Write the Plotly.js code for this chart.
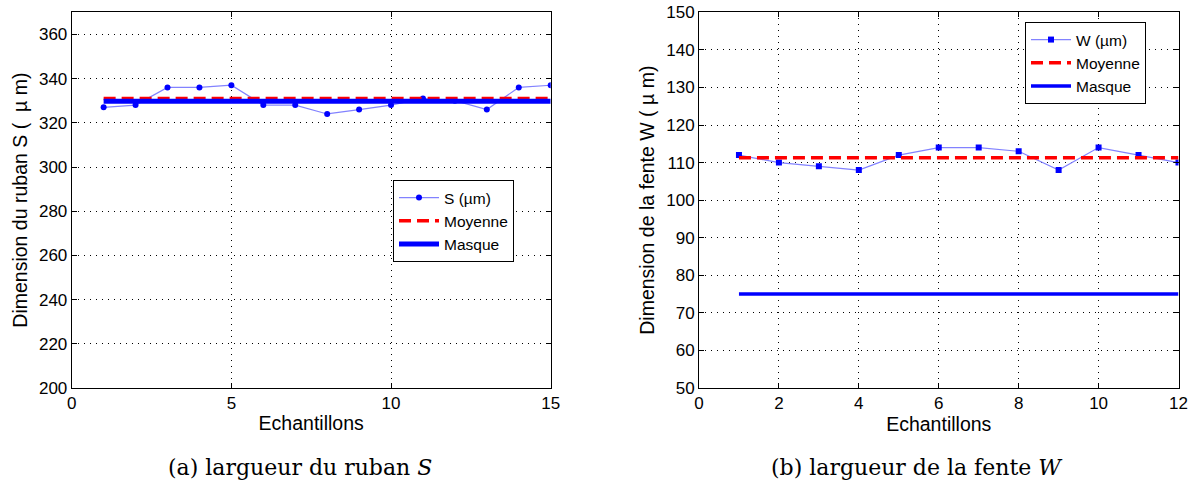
<!DOCTYPE html>
<html>
<head>
<meta charset="utf-8">
<script src="https://cdn.plot.ly/plotly-3.0.1.min.js"></script>
<style>html,body{margin:0;padding:0;background:#fff;}#chart{width:1196px;height:491px;}</style>
</head>
<body>
<div id="chart"></div>
<script>
// ---- Data ----
const samplesS = [1,2,3,4,5,6,7,8,9,10,11,12,13,14,15];
const valuesS  = [327,328,336,336,337,328,328,324,326,328,331,330,326,336,337];
const moyenneS = 331;
const masqueS  = 329.8;

const samplesW = [1,2,3,4,5,6,7,8,9,10,11,12];
const valuesW  = [112,110,109,108,112,114,114,113,108,114,112,110];
const moyenneW = 111.3;
const masqueW  = 75;

const ticksYS = [200,220,240,260,280,300,320,340,360];
const ticksYW = [50,60,70,80,90,100,110,120,130,140,150];
const ticksXS = [0,5,10,15];
const ticksXW = [0,2,4,6,8,10,12];

const nameS = 'S (µm)';
const nameW = 'W (µm)';
const nameMoy = 'Moyenne';
const nameMas = 'Masque';

const firstLast = arr => [arr[0], arr[arr.length-1]];

const FONT = 'Liberation Sans, Arial, sans-serif';
const lineBlue = 'rgb(130,130,255)';

const traces = [
  {x: samplesS, y: valuesS, name: nameS, type: 'scatter', mode: 'lines+markers',
   line: {color: lineBlue, width: 1.2}, marker: {color: '#0000ff', size: 6, symbol: 'circle'},
   xaxis: 'x', yaxis: 'y', legend: 'legend'},
  {x: firstLast(samplesS), y: [moyenneS, moyenneS], name: nameMoy, type: 'scatter', mode: 'lines',
   line: {color: '#ff0000', width: 3.5, dash: '12px,6px'}, xaxis: 'x', yaxis: 'y', legend: 'legend'},
  {x: firstLast(samplesS), y: [masqueS, masqueS], name: nameMas, type: 'scatter', mode: 'lines',
   line: {color: '#0000ff', width: 5}, xaxis: 'x', yaxis: 'y', legend: 'legend'},

  {x: samplesW, y: valuesW, name: nameW, type: 'scatter', mode: 'lines+markers',
   line: {color: lineBlue, width: 1.2}, marker: {color: '#0000ff', size: 6, symbol: 'square'},
   xaxis: 'x2', yaxis: 'y2', legend: 'legend2'},
  {x: firstLast(samplesW), y: [moyenneW, moyenneW], name: nameMoy, type: 'scatter', mode: 'lines',
   line: {color: '#ff0000', width: 3.5, dash: '12px,6px'}, xaxis: 'x2', yaxis: 'y2', legend: 'legend2'},
  {x: firstLast(samplesW), y: [masqueW, masqueW], name: nameMas, type: 'scatter', mode: 'lines',
   line: {color: '#0000ff', width: 3.5}, xaxis: 'x2', yaxis: 'y2', legend: 'legend2'}
];

function axisBase(extra) {
  return Object.assign({
    showline: true, linecolor: '#000', linewidth: 1, mirror: 'ticks',
    ticks: 'inside', ticklen: 5, tickcolor: '#000', tickwidth: 1,
    showgrid: true, gridcolor: '#000', gridwidth: 1, griddash: '1px,5px',
    zeroline: false, automargin: false,
    tickfont: {family: FONT, size: 17, color: '#000'},
    fixedrange: true
  }, extra);
}

const yDom = [1 - 388/491, 1 - 12.3/491];

const layout = {
  width: 1196, height: 491,
  margin: {l: 0, r: 0, t: 0, b: 0},
  paper_bgcolor: '#fff', plot_bgcolor: '#fff',
  showlegend: true,
  font: {family: FONT, color: '#000'},
  xaxis: axisBase({domain: [71.7/1196, 550.7/1196], range: [0, 15], tickmode: 'array', tickvals: ticksXS,
    anchor: 'y', title: {text: 'Echantillons', font: {family: FONT, size: 19.5}, standoff: 3}}),
  yaxis: axisBase({domain: yDom, range: [200, 370], tickmode: 'array', tickvals: ticksYS,
    anchor: 'x', title: {text: 'Dimension du ruban S (  µ m)', font: {family: FONT, size: 19.5}, standoff: 6}}),
  xaxis2: axisBase({domain: [699/1196, 1178.5/1196], range: [0, 12], tickmode: 'array', tickvals: ticksXW,
    anchor: 'y2', title: {text: 'Echantillons', font: {family: FONT, size: 19.5}, standoff: 3}}),
  yaxis2: axisBase({domain: yDom, range: [50, 150], tickmode: 'array', tickvals: ticksYW,
    anchor: 'x2', title: {text: 'Dimension de la fente W ( µ m)', font: {family: FONT, size: 19.5}, standoff: 6}}),
  legend: {x: 393/1196, y: 1 - 180/491, xanchor: 'left', yanchor: 'top',
    bgcolor: '#fff', bordercolor: '#000', borderwidth: 1,
    font: {family: FONT, size: 15.5, color: '#000'}, tracegroupgap: 0, itemwidth: 40},
  legend2: {x: 1025/1196, y: 1 - 22/491, xanchor: 'left', yanchor: 'top',
    bgcolor: '#fff', bordercolor: '#000', borderwidth: 1,
    font: {family: FONT, size: 15.5, color: '#000'}, tracegroupgap: 0, itemwidth: 40},
  annotations: [
    {text: '(a) largueur du ruban <i>S</i>', xref: 'paper', yref: 'paper',
     x: 300/1196, y: 1 - 467/491, xanchor: 'center', yanchor: 'middle', showarrow: false,
     font: {family: 'DejaVu Serif, serif', size: 22, color: '#000'}},
    {text: '(b) largueur de la fente <i>W</i>', xref: 'paper', yref: 'paper',
     x: 917/1196, y: 1 - 467/491, xanchor: 'center', yanchor: 'middle', showarrow: false,
     font: {family: 'DejaVu Serif, serif', size: 22, color: '#000'}}
  ]
};

Plotly.newPlot('chart', traces, layout, {displayModeBar: false, staticPlot: true});
</script>
</body>
</html>
